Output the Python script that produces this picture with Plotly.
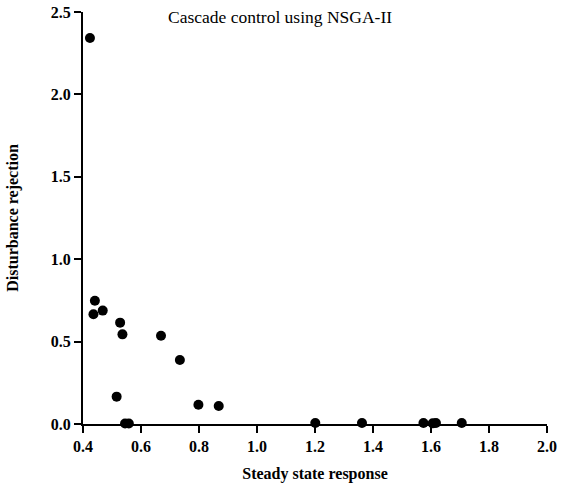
import plotly.graph_objects as go

steady_state = [0.424, 0.441, 0.436, 0.468, 0.528, 0.536, 0.669, 0.734, 0.516, 0.798, 0.868,
                0.545, 0.558, 1.201, 1.362, 1.574, 1.606, 1.617, 1.706]
disturbance = [2.342, 0.748, 0.666, 0.688, 0.615, 0.544, 0.536, 0.388, 0.166, 0.117, 0.109,
               0.003, 0.003, 0.006, 0.006, 0.006, 0.004, 0.006, 0.006]
x_ticks = [0.4, 0.6, 0.8, 1.0, 1.2, 1.4, 1.6, 1.8, 2.0]
y_ticks = [0.0, 0.5, 1.0, 1.5, 2.0, 2.5]

fig = go.Figure()
fig.add_trace(go.Scatter(x=steady_state, y=disturbance, mode="markers",
                         marker=dict(color="black", size=10), cliponaxis=False,
                         showlegend=False))

font = "Liberation Serif, Times New Roman, serif"
fig.update_layout(
    width=563, height=493,
    margin=dict(l=83, r=16, t=12, b=69, autoexpand=False),
    paper_bgcolor="white", plot_bgcolor="white",
    font=dict(family=font, color="black"),
    annotations=[dict(text="Cascade control using NSGA-II", x=0.5, y=1.0,
                      xref="paper", yref="paper", xanchor="center", yanchor="middle",
                      showarrow=False,
                      font=dict(family=font, size=17.5, color="black"))],
)
# place annotation in pixel terms converted to paper coords
pw, ph = 563 - 83 - 16, 493 - 12 - 69
fig.layout.annotations[0].x = (280 - 83) / pw
fig.layout.annotations[0].y = (424 - 17) / ph

fig.update_xaxes(range=[0.4, 2.0], tickvals=x_ticks, ticktext=[f"<b>{v:.1f}</b>" for v in x_ticks],
                 showline=True, linecolor="black", linewidth=2, ticks="outside",
                 tickwidth=2, ticklen=7, tickcolor="black", showgrid=False, zeroline=False,
                 automargin=False,
                 tickfont=dict(family=font, size=16, color="black"),
                 title=dict(text="<b>Steady state response</b>", standoff=14,
                            font=dict(family=font, size=16, color="black")))
fig.update_yaxes(range=[0, 2.5], tickvals=y_ticks, ticktext=[f"<b>{v:.1f}</b>" for v in y_ticks],
                 showline=True, linecolor="black", linewidth=2, ticks="outside",
                 tickwidth=2, ticklen=7, tickcolor="black", showgrid=False, zeroline=False,
                 automargin=False,
                 tickfont=dict(family=font, size=16, color="black"),
                 title=dict(text="<b>Disturbance rejection</b>", standoff=28,
                            font=dict(family=font, size=16, color="black")))

fig.write_html("out.html", config={"displayModeBar": False},
               post_script="document.body.style.margin='0';")
